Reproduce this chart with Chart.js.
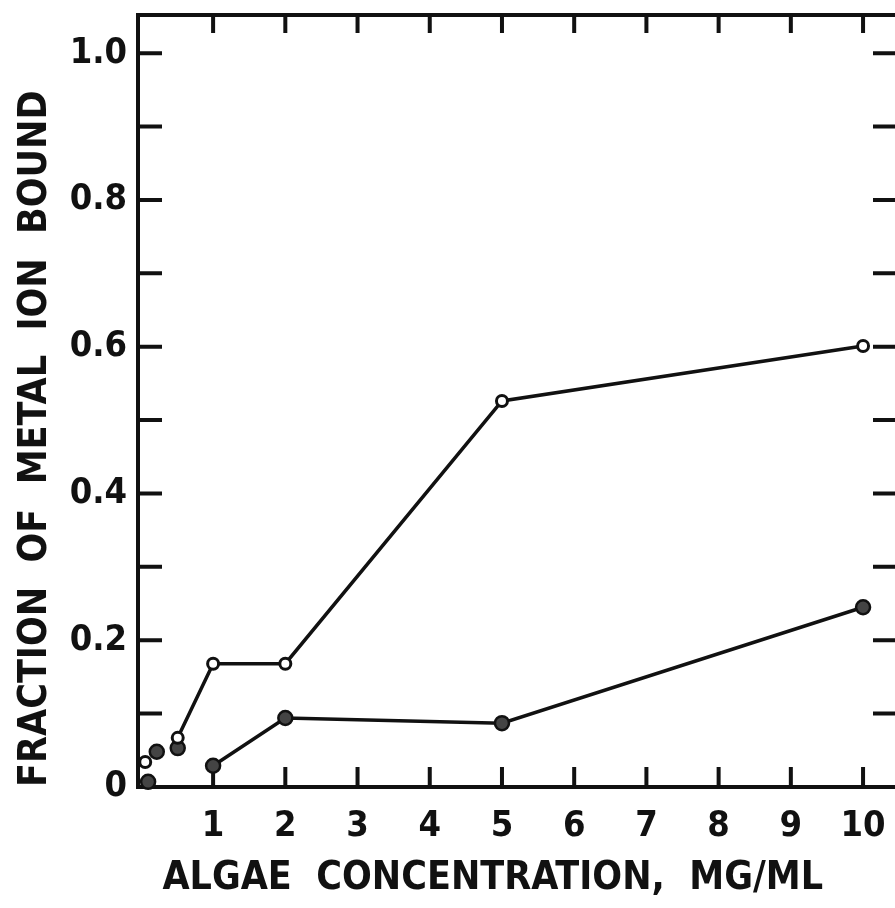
<!DOCTYPE html>
<html>
<head>
<meta charset="utf-8">
<script src="https://cdn.jsdelivr.net/npm/chart.js@4/dist/chart.umd.min.js"></script>
<style>
  html, body { margin: 0; padding: 0; background: #fff; overflow: hidden; }
  canvas { display: block; }
</style>
</head>
<body>
<canvas id="chart" width="910" height="908"></canvas>
<script>
// algae concentration (mg/ml) and fraction of metal ion bound
const openConc = [0.06, 0.51, 1, 2, 5, 10];
const openFrac = [0.034, 0.067, 0.168, 0.168, 0.526, 0.601];
const filledConc = [0.1, 0.22, 0.51, 1, 2, 5, 10];
const filledFrac = [0.007, 0.048, 0.053, 0.029, 0.094, 0.087, 0.245];

// tick labels and tick marks
const xLabels = [1, 2, 3, 4, 5, 6, 7, 8, 9, 10];
const yLabels = [0, 0.2, 0.4, 0.6, 0.8, 1.0];
const yMarks = [0.1, 0.2, 0.3, 0.4, 0.5, 0.6, 0.7, 0.8, 0.9, 1.0];

const ink = "#111";
const font = "'DejaVu Sans Condensed', 'DejaVu Sans', sans-serif";
Chart.defaults.color = ink;

// points to array of {x, y}
const toPoints = (xs, ys) => xs.map((v, i) => ({ x: v, y: ys[i] }));

// frame with inward tick marks on all four sides
const frame = {
  id: "frame",
  beforeDatasetsDraw(chart) {
    const { ctx, chartArea: a, scales: { x, y } } = chart;
    ctx.save();
    ctx.strokeStyle = ink;
    ctx.lineWidth = 4;
    ctx.strokeRect(a.left, a.top, a.right - a.left, a.bottom - a.top);
    ctx.beginPath();
    xLabels.forEach(v => {
      const px = x.getPixelForValue(v);
      ctx.moveTo(px, a.bottom); ctx.lineTo(px, a.bottom - 20);
      ctx.moveTo(px, a.top); ctx.lineTo(px, a.top + 18);
    });
    yMarks.forEach(v => {
      const py = y.getPixelForValue(v);
      ctx.moveTo(a.left, py); ctx.lineTo(a.left + 24, py);
      ctx.moveTo(a.right, py); ctx.lineTo(a.right - 24, py);
    });
    ctx.stroke();
    ctx.restore();
  }
};

new Chart(document.getElementById("chart"), {
  type: "line",
  plugins: [frame],
  data: {
    datasets: [
      {
        data: toPoints(openConc, openFrac),
        borderColor: ink,
        borderWidth: 3.5,
        pointRadius: 5.5,
        pointBorderWidth: 3,
        pointBackgroundColor: "#fff",
        pointBorderColor: ink,
        segment: { borderColor: c => c.p0DataIndex < 1 ? "rgba(0,0,0,0)" : ink }, // first point not joined
        clip: false,
      },
      {
        data: toPoints(filledConc, filledFrac),
        borderColor: ink,
        borderWidth: 3.5,
        pointRadius: 7,
        pointBorderWidth: 2.5,
        pointBackgroundColor: "#444",
        pointBorderColor: ink,
        segment: { borderColor: c => c.p0DataIndex < 3 ? "rgba(0,0,0,0)" : ink }, // joined from 1 mg/ml
        clip: false,
      },
    ],
  },
  options: {
    responsive: false,
    animation: false,
    layout: { padding: { top: 15, right: 13, left: 0, bottom: 0 } },
    plugins: { legend: { display: false }, tooltip: { enabled: false } },
    scales: {
      x: {
        type: "linear",
        min: -0.04,
        max: 10.47,
        grid: { display: false },
        border: { display: false },
        afterBuildTicks: s => { s.ticks = xLabels.map(v => ({ value: v })); },
        afterFit: s => { s.height = 121; s.paddingLeft = 0; s.paddingRight = 0; },
        ticks: {
          autoSkip: false,
          maxRotation: 0,
          padding: 10,
          font: { family: font, size: 36, weight: "bold" },
          callback: v => String(v),
        },
        title: {
          display: true,
          text: "  ALGAE  CONCENTRATION,  MG/ML",
          align: "start",
          font: { family: font, size: 39, weight: "bold" },
          padding: { top: 0, bottom: 6 },
        },
      },
      y: {
        min: 0,
        max: 1.052,
        grid: { display: false },
        border: { display: false },
        afterBuildTicks: s => { s.ticks = yLabels.map(v => ({ value: v })); },
        afterFit: s => { s.width = 138; s.paddingTop = 0; s.paddingBottom = 0; },
        ticks: {
          padding: 3,
          font: { family: font, size: 36, weight: "bold" },
          callback: v => v === 0 ? "0" : v.toFixed(1),
        },
        title: {
          display: true,
          text: "FRACTION  OF  METAL  ION  BOUND",
          align: "start",
          font: { family: font, size: 39, weight: "bold" },
          padding: { top: 12, bottom: 0 },
        },
      },
    },
  },
});
</script>
</body>
</html>
